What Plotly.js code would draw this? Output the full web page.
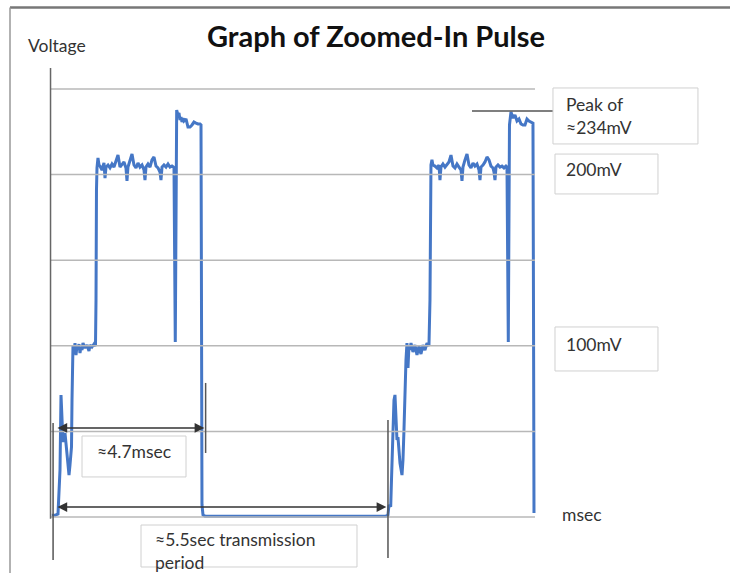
<!DOCTYPE html>
<html>
<head>
<meta charset="utf-8">
<script src="https://cdn.plot.ly/plotly-3.0.1.min.js"></script>
<style>html,body{margin:0;padding:0;background:#fff;}#chart{width:730px;height:573px;}</style>
</head>
<body>
<div id="chart"></div>
<script>
// Waveform (time in ms, voltage in mV)
var pulseTime = [
  -0.10, 0.00, 0.094, 0.157, 0.188, 0.219, 0.251, 0.313, 0.376, 0.439, 0.470, 0.517, 0.533, 0.548,
  0.564, 0.595, 0.627, 0.658, 0.689, 0.721, 0.752, 0.783, 0.815, 0.846, 0.877, 0.940, 1.003, 1.065, 1.097, 1.159, 1.222, 1.269,
  1.285, 1.300, 1.316, 1.347, 1.379,
  1.410, 1.473, 1.535, 1.567, 1.598, 1.661, 1.723, 1.786, 1.849, 1.911, 1.974, 2.037, 2.099, 2.162, 2.224, 2.256, 2.287, 2.350,
  2.413, 2.475, 2.538, 2.601, 2.663, 2.726, 2.789, 2.820, 2.851, 2.914, 2.977, 3.039, 3.102, 3.165, 3.227, 3.290, 3.321, 3.353,
  3.415, 3.478, 3.541, 3.603, 3.666, 3.713,
  3.729, 3.769, 3.807,
  3.813, 3.854, 3.885, 3.917, 3.948, 3.979, 4.011, 4.042, 4.105, 4.167, 4.230, 4.293, 4.355, 4.418, 4.481, 4.543, 4.575,
  4.590, 4.606, 4.638, 4.700, 10.370, 10.434, 10.465,
  10.519, 10.544, 10.591, 10.622, 10.653, 10.685, 10.716, 10.747, 10.778, 10.810, 10.873, 10.904, 10.935, 10.967, 10.998, 11.029,
  11.061, 11.092, 11.123, 11.155, 11.217, 11.280, 11.343, 11.405, 11.468, 11.530, 11.593, 11.656, 11.718,
  11.750, 11.765, 11.781, 11.812, 11.843,
  11.906, 11.969, 12.032, 12.063, 12.094, 12.157, 12.220, 12.282, 12.345, 12.408, 12.471, 12.533, 12.596, 12.659, 12.721, 12.753,
  12.784, 12.847, 12.910, 12.972, 13.035, 13.098, 13.160, 13.223, 13.286, 13.317, 13.348, 13.411, 13.474, 13.536, 13.599, 13.661,
  13.724, 13.756, 13.787, 13.818, 13.881, 13.943, 14.006, 14.069, 14.131,
  14.163, 14.204, 14.241, 14.288,
  14.351, 14.413, 14.476, 14.539, 14.601, 14.664, 14.727, 14.789, 14.852, 14.915, 14.977,
  14.993, 15.009
];
var pulseVolt = [
  1.0, 1.0, 1.8, 27.5, 71.3, 50.8, 43.8, 49.1, 38.0, 24.5, 30.4, 40.9, 68.3, 97.5,
  100.5, 96.4, 101.6, 94.6, 99.9, 98.1, 101.0, 95.8, 99.3, 97.5, 101.6, 98.7, 100.5, 97.0, 100.5, 99.3, 101.0, 99.9,
  126.8, 191.0, 203.9, 209.7, 205.6,
  205.0, 202.7, 206.8, 198.0, 204.4, 205.6, 203.9, 206.2, 204.4, 208.6, 211.4, 204.4, 205.6, 207.4, 203.9, 196.3, 204.4, 208.6,
  212.0, 205.6, 203.9, 206.8, 204.4, 205.6, 202.7, 196.8, 204.4, 206.2, 204.4, 208.6, 210.3, 205.0, 203.9, 201.5, 196.8, 204.4,
  205.6, 204.4, 206.2, 204.4, 205.0, 204.4,
  203.9, 102.2, 236.6,
  237.7, 234.8, 236.0, 231.9, 233.6, 230.7, 233.0, 231.3, 232.5, 227.8, 227.8, 229.0, 230.7, 230.1, 229.6, 229.6, 229.0,
  126.8, 7.0, 1.2, 0.5, 0.5, 1.2, 7.0,
  6.0, 21.6, 45.0, 68.3, 71.3, 56.7, 45.0, 46.7, 39.1, 31.5, 24.5, 33.3, 50.8, 74.2, 91.7, 101.6,
  87.0, 100.5, 97.5, 101.6, 96.4, 100.5, 94.6, 99.9, 95.2, 100.5, 97.5, 101.6, 99.9,
  126.8, 185.2, 205.6, 208.6, 205.6,
  205.0, 203.9, 205.6, 196.8, 204.4, 206.2, 204.4, 205.6, 207.4, 211.4, 205.0, 203.9, 206.2, 204.4, 202.7, 196.3,
  204.4, 208.6, 212.0, 205.6, 203.9, 206.8, 205.0, 206.2, 202.7, 196.8, 204.4, 205.6, 207.4, 210.3, 208.6, 205.0,
  203.9, 201.5, 196.8, 204.4, 205.6, 204.4, 205.0, 203.9, 205.0,
  204.4, 102.2, 229.0, 236.6,
  233.1, 234.8, 231.3, 232.5, 229.6, 229.0, 229.0, 232.5, 231.3, 230.7, 230.1,
  126.8, 2.3
];

// Grid levels (mV)
var gridLevels = [0, 50, 100, 150, 200, 250];

// Texts
var titleText = "Graph of Zoomed-In Pulse";
var yLabel = "Voltage";
var xLabel = "msec";
var peakLabel = "Peak of<br>≈234mV";
var level200Label = "200mV";
var level100Label = "100mV";
var pulseWidthLabel = "≈4.7msec";
var periodLabel = "≈5.5sec transmission<br>period";

// Marker times (ms) and peak level (mV)
var pulseStart = 0.03;
var pulseEnd = 4.70;
var periodEnd = 10.434;
var peakLevel = 237.1;

var X0 = -1.7233, X1 = 21.151, Y0 = -32.71, Y1 = 301.99;
var gridX0 = -0.125, gridX1 = 15.04;
var font = "Lato, 'Open Sans', sans-serif";

var shapes = [];
gridLevels.forEach(function (g) {
  shapes.push({type: 'line', xref: 'x', yref: 'y', x0: gridX0, x1: gridX1, y0: g, y1: g,
    line: {color: '#b8b8b8', width: 1.5}});
});
// axis
shapes.push({type: 'line', xref: 'x', yref: 'y', x0: -0.14, x1: -0.14, y0: 262.3, y1: -1, line: {color: '#666', width: 1.5}});
// left marker
shapes.push({type: 'line', xref: 'x', yref: 'y', x0: -0.06, x1: -0.06, y0: 54.9, y1: -25.1, line: {color: '#555', width: 1.5}});
// 4.7 marker
shapes.push({type: 'line', xref: 'x', yref: 'y', x0: 4.72, x1: 4.72, y0: 78.3, y1: 37.4, line: {color: '#555', width: 1.5}});
// period end marker
shapes.push({type: 'line', xref: 'x', yref: 'y', x0: periodEnd, x1: periodEnd, y0: 56.7, y1: -23.9, line: {color: '#555', width: 1.5}});
// peak line
shapes.push({type: 'line', xref: 'x', yref: 'y', x0: 13.066, x1: 15.604, y0: peakLevel, y1: peakLevel, line: {color: '#555', width: 1.5}});
// boxes
function box(x0, x1, y0, y1) {
  shapes.push({type: 'rect', xref: 'x', yref: 'y', x0: x0, x1: x1, y0: y0, y1: y1,
    line: {color: '#d0d0d0', width: 1}, fillcolor: 'rgba(255,255,255,0)'});
}
box(15.604, 20.147, 217.9, 250.6);
box(15.667, 18.894, 188.7, 212.0);
box(15.667, 18.894, 85.3, 111.0);
box(0.846, 4.105, 23.4, 47.3);
box(2.695, 9.463, -29.2, -4.67);
// frame border (top and left)
shapes.push({type: 'line', xref: 'paper', yref: 'paper', x0: 10/730, x1: 1, y0: 1 - 7.5/573, y1: 1 - 7.5/573, line: {color: '#777', width: 2.5}});
shapes.push({type: 'line', xref: 'paper', yref: 'paper', x0: 10/730, x1: 10/730, y0: 1 - 7.5/573, y1: 0, line: {color: '#999', width: 1.5}});

var txt = {family: font, size: 17.5, color: '#333'};
var annotations = [
  {xref: 'paper', yref: 'y', x: 376/730, y: 281.5, text: '<b>' + titleText + '</b>', showarrow: false,
    font: {family: font, size: 29, color: '#111'}, xanchor: 'center', yanchor: 'middle'},
  {xref: 'paper', yref: 'y', x: 26/730, y: 275.7, text: yLabel, showarrow: false, font: {family: font, size: 17.5, color: '#333'},
    xanchor: 'left', yanchor: 'middle'},
  {xref: 'x', yref: 'y', x: 15.95, y: 234.2, text: peakLabel, showarrow: false, font: txt, xanchor: 'left', yanchor: 'middle', align: 'left'},
  {xref: 'x', yref: 'y', x: 15.95, y: 202.7, text: level200Label, showarrow: false, font: txt, xanchor: 'left', yanchor: 'middle'},
  {xref: 'x', yref: 'y', x: 15.95, y: 100.5, text: level100Label, showarrow: false, font: txt, xanchor: 'left', yanchor: 'middle'},
  {xref: 'x', yref: 'y', x: 15.82, y: 1.2, text: xLabel, showarrow: false, font: txt, xanchor: 'left', yanchor: 'middle'},
  {xref: 'x', yref: 'y', x: 1.253, y: 38.0, text: pulseWidthLabel, showarrow: false, font: txt, xanchor: 'left', yanchor: 'middle'},
  {xref: 'x', yref: 'y', x: 3.071, y: -19.9, text: periodLabel, showarrow: false, font: txt, xanchor: 'left', yanchor: 'middle', align: 'left'},
  // arrows (double-headed)
  {xref: 'x', yref: 'y', axref: 'x', ayref: 'y', x: pulseEnd - 0.02, y: 52.0, ax: pulseStart, ay: 52.0, text: '',
    showarrow: true, arrowhead: 2, startarrowhead: 2, arrowside: 'end+start', arrowsize: 1.3, arrowwidth: 1.5, arrowcolor: '#333',
    standoff: 0, startstandoff: 0},
  {xref: 'x', yref: 'y', axref: 'x', ayref: 'y', x: periodEnd - 0.05, y: 5.84, ax: pulseStart, ay: 5.84, text: '',
    showarrow: true, arrowhead: 2, startarrowhead: 2, arrowside: 'end+start', arrowsize: 1.3, arrowwidth: 1.5, arrowcolor: '#333',
    standoff: 0, startstandoff: 0}
];

var trace = {x: pulseTime, y: pulseVolt, type: 'scatter', mode: 'lines',
  line: {color: '#4577C6', width: 3}, hoverinfo: 'none'};

var layout = {
  width: 730, height: 573,
  margin: {l: 0, r: 0, t: 0, b: 0, pad: 0},
  paper_bgcolor: '#fff', plot_bgcolor: '#fff',
  showlegend: false,
  xaxis: {range: [X0, X1], visible: false, fixedrange: true},
  yaxis: {range: [Y0, Y1], visible: false, fixedrange: true},
  shapes: shapes,
  annotations: annotations
};

Plotly.newPlot('chart', [trace], layout, {staticPlot: true, displayModeBar: false});
</script>
</body>
</html>
